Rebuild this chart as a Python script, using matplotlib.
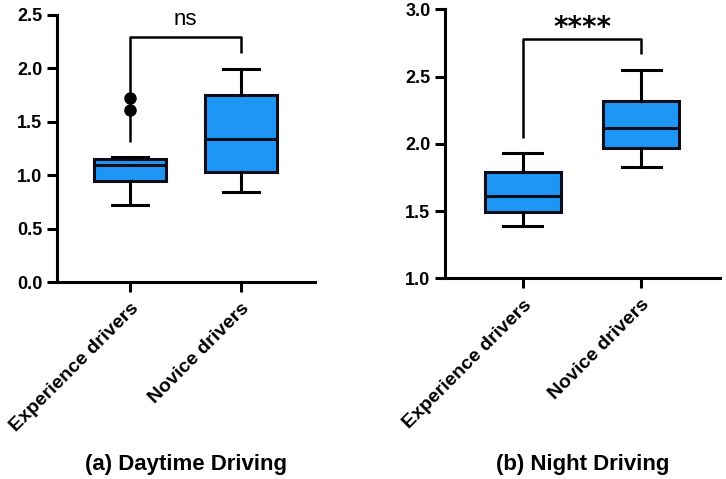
import numpy as np
import matplotlib
matplotlib.use("Agg")
import matplotlib.pyplot as plt

plt.rcParams['font.family'] = ['Liberation Sans', 'DejaVu Sans']
plt.rcParams['font.weight'] = 'bold'

groups = ["Experience drivers", "Novice drivers"]

# (a) daytime: box statistics
day_q1 = [0.95, 1.03]
day_med = [1.10, 1.34]
day_q3 = [1.15, 1.75]
day_lo = [0.72, 0.84]
day_hi = [1.17, 1.99]
day_fliers = [[1.61, 1.72], []]

# (b) night
night_q1 = [1.49, 1.97]
night_med = [1.61, 2.12]
night_q3 = [1.79, 2.32]
night_lo = [1.39, 1.83]
night_hi = [1.93, 2.55]
night_fliers = [[], []]

# significance brackets: top, left leg bottom, right leg bottom
day_bracket = [2.29, 1.31, 2.14]
night_bracket = [2.78, 2.04, 2.67]
day_sig = "ns"
night_sig = "****"

blue = "#1e96f5"
edge = "#0d0d1a"


def stats(q1, med, q3, lo, hi, fl):
    out = []
    for i in range(len(q1)):
        out.append(dict(q1=q1[i], med=med[i], q3=q3[i], whislo=lo[i],
                        whishi=hi[i], fliers=fl[i]))
    return out


def draw(ax, st, bracket, ylim, yticks):
    ax.bxp(st, positions=[1, 2], widths=0.65, patch_artist=True,
           showfliers=True,
           boxprops=dict(facecolor=blue, edgecolor=edge, linewidth=2.2),
           medianprops=dict(color=edge, linewidth=2.2),
           whiskerprops=dict(color="black", linewidth=2.2),
           capprops=dict(color="black", linewidth=2.2),
           capwidths=0.33,
           flierprops=dict(marker="o", markerfacecolor="black",
                           markeredgecolor="black", markersize=8))
    top, l_bot, r_bot = bracket
    ax.plot([1, 1, 2, 2], [l_bot, top, top, r_bot], color="black",
            linewidth=1.8, solid_capstyle="butt")
    ax.set_xlim(0.34, 2.67)
    ax.set_ylim(*ylim)
    ax.set_yticks(yticks)
    ax.set_yticklabels([f"{t:.1f}" for t in yticks])
    ax.set_xticks([1, 2])
    ax.set_xticklabels(groups, rotation=45, ha="right",
                       rotation_mode="anchor", fontsize=14)
    for s in ["top", "right"]:
        ax.spines[s].set_visible(False)
    for s in ["left", "bottom"]:
        ax.spines[s].set_linewidth(2.2)
    ax.tick_params(width=2.2, length=7)
    ax.tick_params(axis="y", labelsize=13)
    ax.tick_params(axis="x", pad=6)


fig = plt.figure(figsize=(7.26, 4.79), dpi=100)
ax1 = fig.add_axes([0.0785, 0.411, 0.3555, 0.5577])
ax2 = fig.add_axes([0.613, 0.419, 0.379, 0.5616])

draw(ax1, stats(day_q1, day_med, day_q3, day_lo, day_hi, day_fliers),
     day_bracket, (0, 2.5), [0.0, 0.5, 1.0, 1.5, 2.0, 2.5])
draw(ax2, stats(night_q1, night_med, night_q3, night_lo, night_hi,
                night_fliers),
     night_bracket, (1.0, 3.0), [1.0, 1.5, 2.0, 2.5, 3.0])

ax1.text(1.5, 2.41, day_sig, ha="center", va="baseline", fontsize=16,
         fontweight="normal", clip_on=False)
ax2.text(1.5, 2.805, night_sig, ha="center", va="baseline", fontsize=20,
         fontweight="bold", family="DejaVu Sans", clip_on=False)

fig.text(0.256, 0.031, "(a) Daytime Driving", ha="center", va="center",
         fontsize=16, fontweight="bold")
fig.text(0.803, 0.031, "(b) Night Driving", ha="center", va="center",
         fontsize=16, fontweight="bold")

fig.savefig("out.png", dpi=100)
